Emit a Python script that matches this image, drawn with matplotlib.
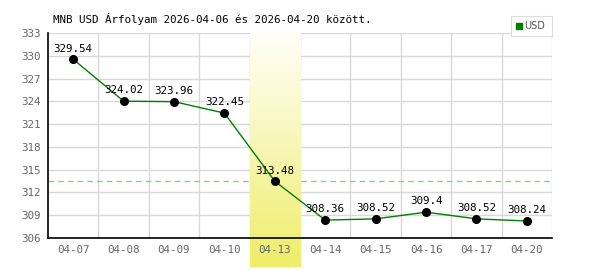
import numpy as np
import matplotlib
matplotlib.use("Agg")
import matplotlib.pyplot as plt
from matplotlib.colors import LinearSegmentedColormap

dates = ["04-07", "04-08", "04-09", "04-10", "04-13",
         "04-14", "04-15", "04-16", "04-17", "04-20"]
rates = [329.54, 324.02, 323.96, 322.45, 313.48,
         308.36, 308.52, 309.4, 308.52, 308.24]
rate_labels = ["329.54", "324.02", "323.96", "322.45", "313.48",
               "308.36", "308.52", "309.4", "308.52", "308.24"]
highlight = 4          # index of the highlighted day (04-13)
ref_rate = 313.48      # dashed reference line
yticks = [306, 309, 312, 315, 318, 321, 324, 327, 330, 333]

W, H = 600, 270
fig = plt.figure(figsize=(W / 100, H / 100), dpi=100)
left, right, top, bottom = 48, 552, 33, 238
ax = fig.add_axes([left / W, 1 - bottom / H, (right - left) / W, (bottom - top) / H])

x = np.arange(len(dates))
ymin, ymax = yticks[0], yticks[-1]

# grid
for yt in yticks:
    ax.axhline(yt, color="#d9d9d9", lw=1, zorder=0.5)
for xb in np.arange(-0.5, len(dates), 1.0)[1:]:
    ax.axvline(xb, color="#d9d9d9", lw=1, zorder=0.5)

# dashed reference line
ax.axhline(ref_rate, color="#8fcc8f", lw=1, ls=(0, (4, 3)), zorder=1)

# highlighted column, gradient from white to yellow, extends below axis
px_per_unit = (bottom - top) / (ymax - ymin)
y_low = ymin - (267 - bottom) / px_per_unit
y_high = ymax + 2 / px_per_unit
cmap = LinearSegmentedColormap.from_list("hl", ["#fffffa", "#f7f6b4", "#efed68"])
grad = np.linspace(0, 1, 256).reshape(-1, 1)
ax.imshow(grad, extent=[highlight - 0.5, highlight + 0.5, y_low, y_high],
          origin="upper", aspect="auto", cmap=cmap, clip_on=False, zorder=2)

# data line
ax.plot(x, rates, color="#008000", lw=1, zorder=3)
ax.plot(x, rates, "o", color="black", ms=5.5, zorder=4)
for xi, yi, lab in zip(x, rates, rate_labels):
    ax.text(xi, yi + 0.75, lab, ha="center", va="bottom",
            family="DejaVu Sans Mono", fontsize=7.8, color="black", zorder=5)

ax.set_xlim(-0.5, len(dates) - 0.5)
ax.set_ylim(ymin, ymax)
ax.set_xticks(x)
ax.set_xticklabels(dates)
ax.set_yticks(yticks)
ax.tick_params(length=0, colors="#666666", labelsize=7.8, pad=5)
for lab in ax.get_xticklabels() + ax.get_yticklabels():
    lab.set_family("DejaVu Sans Mono")
ax.xaxis.set_zorder(7)
ax.yaxis.set_zorder(7)

for s in ["top", "right"]:
    ax.spines[s].set_visible(False)
for s in ["left", "bottom"]:
    ax.spines[s].set_color("black")
    ax.spines[s].set_linewidth(1.2)
    ax.spines[s].set_zorder(6)

# title
fig.text(53 / W, 1 - 19 / H, "MNB USD Árfolyam 2026-04-06 és 2026-04-20 között.",
         ha="left", va="center", family="DejaVu Sans Mono", fontsize=7.8, color="black")

# legend box
lg = fig.add_axes([511 / W, 1 - 36 / H, 41 / W, 20 / H])
lg.set_xticks([])
lg.set_yticks([])
for s in lg.spines.values():
    s.set_color("#dddddd")
lg.add_patch(plt.Rectangle((0.12, 0.36), 0.15, 0.3, color="#008000", transform=lg.transAxes))
lg.text(0.33, 0.5, "USD", transform=lg.transAxes, ha="left", va="center",
        fontsize=7, color="#555555")

fig.savefig("out.png", dpi=100)
